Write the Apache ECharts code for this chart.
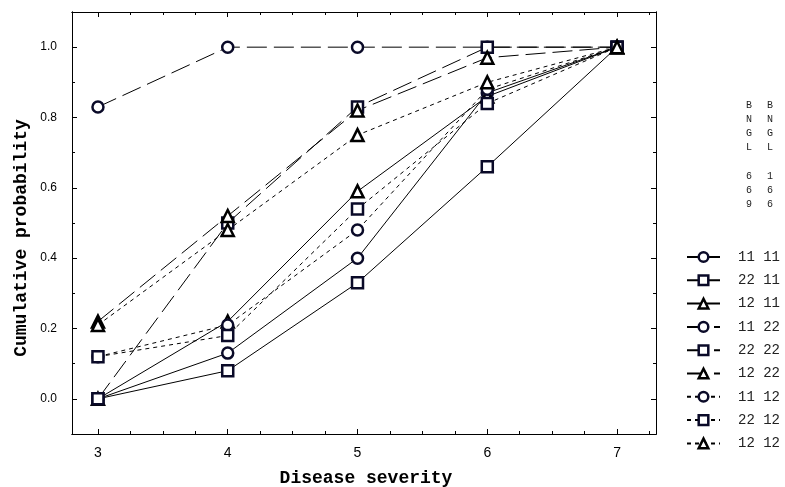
<!DOCTYPE html>
<html>
<head>
<meta charset="utf-8">
<script src="https://cdn.jsdelivr.net/npm/echarts@6/dist/echarts.min.js"></script>
<style>html,body{margin:0;padding:0;background:#fff;}#c{width:785px;height:487px;}</style>
</head>
<body>
<div id="c"></div>
<script>
// ---- data ----
var severity = [3, 4, 5, 6, 7];
var names = ['11 11', '22 11', '12 11', '11 22', '22 22', '12 22', '11 12', '22 12', '12 12'];
var solidCircle   = [0.00, 0.13, 0.40, 0.87, 1.00];
var solidSquare   = [0.00, 0.08, 0.33, 0.66, 1.00];
var solidTriangle = [0.00, 0.22, 0.59, 0.86, 1.00];
var longCircle    = [0.83, 1.00, 1.00, 1.00, 1.00];
var longSquare    = [0.00, 0.50, 0.83, 1.00, 1.00];
var longTriangle  = [0.22, 0.52, 0.82, 0.97, 1.00];
var shortCircle   = [0.12, 0.21, 0.48, 0.88, 1.00];
var shortSquare   = [0.12, 0.18, 0.54, 0.84, 1.00];
var shortTriangle = [0.21, 0.48, 0.75, 0.90, 1.00];
var xTickLabels = [3, 4, 5, 6, 7];
var xMinorTicks = [3.25, 3.5, 3.75, 4.25, 4.5, 4.75, 5.25, 5.5, 5.75, 6.25, 6.5, 6.75, 7.25];
var yTickLabels = [0, 0.2, 0.4, 0.6, 0.8, 1.0];
var yMinorTicks = [0.1, 0.3, 0.5, 0.7, 0.9];
var headerCol1 = ['B', 'N', 'G', 'L', '', '6', '6', '9'];
var headerCol2 = ['B', 'N', 'G', 'L', '', '1', '6', '6'];
var xTitle = 'Disease severity';
var yTitle = 'Cumulative probability';

var seriesValues = [solidCircle, solidSquare, solidTriangle, longCircle, longSquare, longTriangle, shortCircle, shortSquare, shortTriangle];
var shapes = ['circle', 'rect', 'triangle'];
var dashes = ['solid', [20, 7], [4, 4]];

var chart = echarts.init(document.getElementById('c'), null, {renderer: 'canvas'});

function xAxisDef(pos, ticks, len, labels) {
  return {
    type: 'value', position: pos, min: 2.8, max: 7.3, gridIndex: 0,
    axisLine: {show: true, onZero: false, lineStyle: {color: '#000', width: 1}},
    axisTick: {show: true, inside: true, length: len, customValues: ticks, lineStyle: {color: '#000', width: 1}},
    axisLabel: labels ? {show: true, customValues: xTickLabels, margin: 12, color: '#000',
      fontFamily: 'Liberation Sans Narrow, Liberation Sans, sans-serif', fontSize: 14} : {show: false},
    splitLine: {show: false}
  };
}
function yAxisDef(pos, ticks, len, labels) {
  return {
    type: 'value', position: pos, min: -0.1, max: 1.1, gridIndex: 0,
    axisLine: {show: true, onZero: false, lineStyle: {color: '#000', width: 1}},
    axisTick: {show: true, inside: true, length: len, customValues: ticks, lineStyle: {color: '#000', width: 1}},
    axisLabel: labels ? {show: true, customValues: yTickLabels, margin: 15, color: '#000',
      fontFamily: 'Liberation Sans, Arial, sans-serif', fontSize: 12,
      formatter: function (v) { return v.toFixed(1); }} : {show: false},
    splitLine: {show: false}
  };
}

var xAxes = [
  xAxisDef('bottom', xTickLabels, 5, true),
  xAxisDef('bottom', xMinorTicks, 3, false),
  xAxisDef('top', xTickLabels, 5, false),
  xAxisDef('top', xMinorTicks, 3, false)
];
var yAxes = [
  yAxisDef('left', yTickLabels, 5, true),
  yAxisDef('left', yMinorTicks, 3, false),
  yAxisDef('right', yTickLabels, 5, false),
  yAxisDef('right', yMinorTicks, 3, false)
];

var series = seriesValues.map(function (vals, i) {
  var shape = shapes[i % 3];
  var dash = dashes[Math.floor(i / 3)];
  var border = shape === 'triangle' ? '#000' : '#0a0a28';
  return {
    name: names[i],
    type: 'line',
    xAxisIndex: 0, yAxisIndex: 0,
    data: severity.map(function (x, k) { return [x, vals[k]]; }),
    symbol: shape,
    symbolSize: shape === 'triangle' ? 12 : 11,
    showAllSymbol: true,
    lineStyle: {color: '#000', width: 1, type: dash},
    itemStyle: {color: '#fff', borderColor: border, borderWidth: 2.5},
    emphasis: {disabled: true},
    z: 2
  };
});

function headerText(col, x) {
  return {
    type: 'text', left: x, top: 98,
    style: {text: col.join('\n'), font: '10px "Liberation Mono", monospace', fill: '#222', lineHeight: 14.2}
  };
}

chart.setOption({
  animation: false,
  backgroundColor: '#fff',
  grid: {left: 72, right: 129, top: 12, bottom: 53, containLabel: false},
  xAxis: xAxes,
  yAxis: yAxes,
  legend: {
    orient: 'vertical', left: 681, top: 245,
    itemWidth: 33, itemHeight: 12, itemGap: 9.3,
    data: names,
    itemStyle: {borderWidth: 2.5},
    textStyle: {fontFamily: 'Liberation Mono, monospace', fontSize: 14, color: '#222', padding: [0, 0, 0, 13]},
    selectedMode: false
  },
  graphic: [
    headerText(headerCol1, 746),
    headerText(headerCol2, 767),
    {
      type: 'text', x: 21, y: 238, rotation: Math.PI / 2,
      style: {text: yTitle, font: 'bold 18px "Liberation Mono", monospace', fill: '#000', align: 'center', verticalAlign: 'middle'}
    },
    {
      type: 'text', x: 366, y: 478,
      style: {text: xTitle, font: 'bold 18px "Liberation Mono", monospace', fill: '#000', align: 'center', verticalAlign: 'middle'}
    }
  ],
  series: series
});
</script>
</body>
</html>
